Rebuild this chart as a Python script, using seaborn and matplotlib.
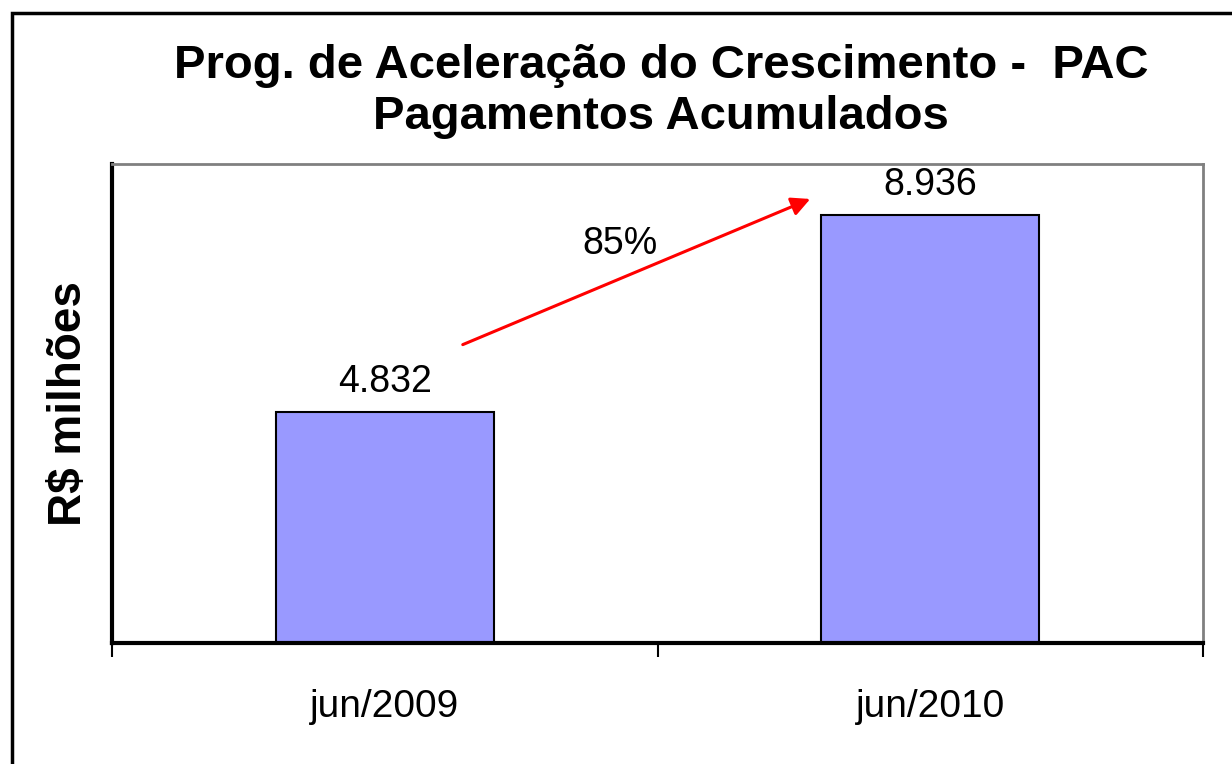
import matplotlib
matplotlib.use("Agg")
import matplotlib.pyplot as plt
from matplotlib.patches import Rectangle
import seaborn as sns
import pandas as pd

# Data
periodos = ["jun/2009", "jun/2010"]
pagamentos = [4832, 8936]
rotulos = ["4.832", "8.936"]
crescimento = "85%"

sns.set_theme(style="white")
plt.rcParams['font.family'] = ['Liberation Sans', 'DejaVu Sans']
plt.rcParams['text.color'] = 'black'
plt.rcParams['axes.labelcolor'] = 'black'
plt.rcParams['xtick.color'] = 'black'

df = pd.DataFrame({"periodo": periodos, "valor": pagamentos})

fig = plt.figure(figsize=(12.32, 7.64), dpi=100)
ax = fig.add_axes([112 / 1232, 1 - 643 / 764, (1203 - 112) / 1232, (643 - 164) / 764])

sns.barplot(data=df, x="periodo", y="valor", color="#9999FF", saturation=1,
            width=0.4, edgecolor="black", linewidth=1.5, ax=ax)

ax.set_xlim(-0.5, 1.5)
ax.set_ylim(0, 10000)

# value labels above bars
for i, (v, txt) in enumerate(zip(pagamentos, rotulos)):
    ax.text(i, v + 250, txt, ha="center", va="bottom", fontsize=27)

# growth arrow
ax.annotate("", xy=(0.78, 9270), xytext=(0.143, 6229),
            arrowprops=dict(arrowstyle="-|>", color="red", lw=2.2,
                            mutation_scale=28, shrinkA=0, shrinkB=0))
ax.text(0.431, 8333, crescimento, ha="center", va="center", fontsize=27)

# axes styling
ax.set_xlabel("")
ax.set_ylabel("R$ milhões", fontsize=33, fontweight="bold", labelpad=15)
ax.set_yticks([])
ax.set_xticks([-0.5, 0.5, 1.5])
ax.set_xticklabels([])
ax.tick_params(axis="x", which="major", direction="out", length=10, width=1.5,
               color="black", bottom=True)
ax.set_xticks([0, 1], minor=True)
ax.set_xticklabels(periodos, minor=True, fontsize=28)
ax.tick_params(axis="x", which="minor", length=0, pad=33)

for side in ["left", "bottom"]:
    ax.spines[side].set_color("black")
    ax.spines[side].set_linewidth(3)
for side in ["top", "right"]:
    ax.spines[side].set_color("#808080")
    ax.spines[side].set_linewidth(2)

fig.text(0.5365, 1 - 66 / 764, "Prog. de Aceleração do Crescimento -  PAC",
         ha="center", va="center", fontsize=34, fontweight="bold")
fig.text(0.5365, 1 - 117 / 764, "Pagamentos Acumulados",
         ha="center", va="center", fontsize=34, fontweight="bold")

# outer chart border
fig.patches.append(Rectangle((11.5 / 1232, -0.1), 1.2, (764 - 13) / 764 + 0.1,
                             transform=fig.transFigure, fill=False,
                             edgecolor="black", linewidth=2.5))

fig.savefig("out.png", dpi=100)
